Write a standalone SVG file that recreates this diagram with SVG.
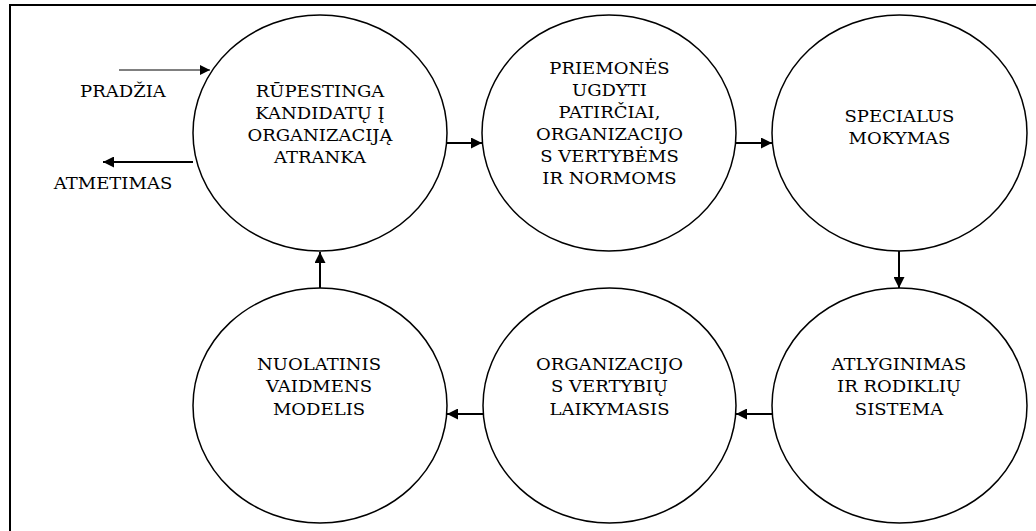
<svg xmlns="http://www.w3.org/2000/svg" width="1036" height="531" viewBox="0 0 1036 531">
  <style>
    .frame { fill: none; stroke: #000; stroke-width: 2; }
    .node ellipse { fill: #fff; stroke: #000; stroke-width: 1.5; }
    .lbl { font-family: "DejaVu Serif", "Noto Serif", serif; font-size: 17px; fill: #000; text-anchor: middle; }
    .conn { stroke: #000; stroke-width: 2; fill: none; marker-end: url(#head); }
    .conn.thin { stroke-width: 1; marker-end: url(#headThin); }
  </style>
  <defs>
    <marker id="head" viewBox="0 0 10 10" refX="10" refY="5" markerWidth="6" markerHeight="5.5" markerUnits="strokeWidth" orient="auto">
      <path d="M0,0 L10,5 L0,10 Z" fill="#000"/>
    </marker>
    <marker id="headThin" viewBox="0 0 10 10" refX="10" refY="5" markerWidth="13" markerHeight="10" markerUnits="strokeWidth" orient="auto">
      <path d="M0,0 L10,5 L0,10 Z" fill="#000"/>
    </marker>
  </defs>

  <rect width="1036" height="531" fill="#fff"/>
  <!-- outer frame, open to the right and bottom -->
  <path class="frame" d="M10,531 V5 H1036"/>

  <!-- entry / exit labels (text slightly widened about its own centre) -->
  <g class="lbl" transform="matrix(1.06,0,0,1,-7.38,0)">
    <text x="123" y="97">PRADŽIA</text>
  </g>
  <g class="lbl" transform="matrix(1.06,0,0,1,-6.78,0)">
    <text x="113" y="189">ATMETIMAS</text>
  </g>

  <g id="n1" class="node">
    <ellipse cx="320" cy="133" rx="127" ry="118"/>
    <g class="lbl" transform="matrix(1.06,0,0,1,-19.2,0)">
      <text x="320" y="97">RŪPESTINGA</text>
      <text x="320" y="119">KANDIDATŲ Į</text>
      <text x="320" y="141">ORGANIZACIJĄ</text>
      <text x="320" y="163">ATRANKA</text>
    </g>
  </g>

  <g id="n2" class="node">
    <ellipse cx="609" cy="133" rx="127" ry="118"/>
    <g class="lbl" transform="matrix(1.06,0,0,1,-36.57,0)">
      <text x="609.5" y="74">PRIEMONĖS</text>
      <text x="609.5" y="96">UGDYTI</text>
      <text x="609.5" y="118">PATIRČIAI,</text>
      <text x="609.5" y="140">ORGANIZACIJO</text>
      <text x="609.5" y="162">S VERTYBĖMS</text>
      <text x="609.5" y="184">IR NORMOMS</text>
    </g>
  </g>

  <g id="n3" class="node">
    <ellipse cx="899.5" cy="133" rx="127.5" ry="118"/>
    <g class="lbl" transform="matrix(1.06,0,0,1,-53.97,0)">
      <text x="899.5" y="122">SPECIALUS</text>
      <text x="899.5" y="144">MOKYMAS</text>
    </g>
  </g>

  <g id="n4" class="node">
    <ellipse cx="899.5" cy="405.5" rx="127.5" ry="117.5"/>
    <g class="lbl" transform="matrix(1.06,0,0,1,-53.94,0)">
      <text x="899" y="370">ATLYGINIMAS</text>
      <text x="899" y="392.5">IR RODIKLIŲ</text>
      <text x="899" y="415">SISTEMA</text>
    </g>
  </g>

  <g id="n5" class="node">
    <ellipse cx="609.5" cy="405.5" rx="126.5" ry="117.5"/>
    <g class="lbl" transform="matrix(1.06,0,0,1,-36.57,0)">
      <text x="609.5" y="370">ORGANIZACIJO</text>
      <text x="609.5" y="392.5">S VERTYBIŲ</text>
      <text x="609.5" y="415">LAIKYMASIS</text>
    </g>
  </g>

  <g id="n6" class="node">
    <ellipse cx="320" cy="405.5" rx="127" ry="117.5"/>
    <g class="lbl" transform="matrix(1.06,0,0,1,-19.14,0)">
      <text x="319" y="370">NUOLATINIS</text>
      <text x="319" y="392.5">VAIDMENS</text>
      <text x="319" y="415">MODELIS</text>
    </g>
  </g>

  <g id="connectors">
    <line class="conn thin" x1="119" y1="70" x2="210" y2="70"/>
    <line class="conn" x1="193" y1="162" x2="103" y2="162"/>
    <line class="conn" x1="447" y1="143" x2="482" y2="143"/>
    <line class="conn" x1="736" y1="143" x2="772" y2="143"/>
    <line class="conn" x1="899" y1="251" x2="899" y2="288"/>
    <line class="conn" x1="772" y1="414" x2="736" y2="414"/>
    <line class="conn" x1="483" y1="414" x2="447" y2="414"/>
    <line class="conn" x1="320" y1="288" x2="320" y2="252"/>
  </g>
</svg>
